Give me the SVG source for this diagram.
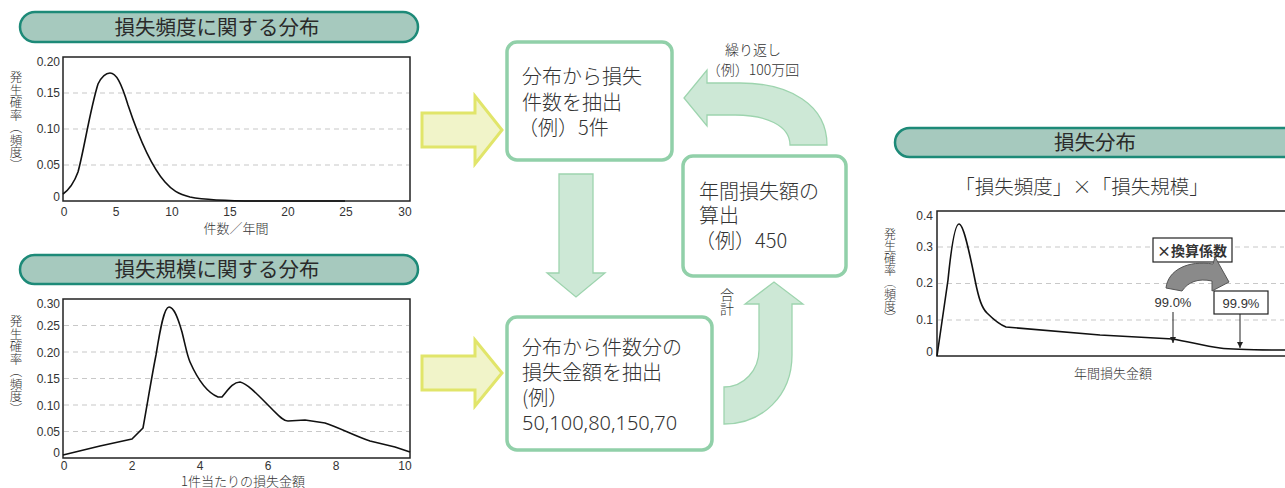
<svg xmlns="http://www.w3.org/2000/svg" width="1285" height="488" viewBox="0 0 1285 488">
<defs>
<style>
text{font-family:"Noto Sans CJK JP","Noto Sans",sans-serif;fill:#333;font-weight:300;}
.pill{fill:#a6c9be;stroke:#1d8a78;stroke-width:2.5;}
.ttl{font-size:20.5px;text-anchor:middle;font-weight:400;fill:#2a2a2a;}
.plot{fill:#fff;stroke:#222;stroke-width:1.5;}
.grid{stroke:#c8c8c8;stroke-width:1.2;stroke-dasharray:5 4;fill:none;}
.curve{fill:none;stroke:#111;stroke-width:1.6;stroke-linejoin:round;}
.tk{font-size:12px;font-family:"Liberation Sans","Noto Sans",sans-serif;fill:#333;font-weight:400;}
.tky{text-anchor:end;}
.tkx{text-anchor:middle;}
.vlab{font-size:12.5px;writing-mode:vertical-rl;}
.axl{font-size:13px;text-anchor:middle;}
.box{fill:#fff;stroke:#91d0a9;stroke-width:3.5;}
.btxt{font-size:20px;}
.yarr{fill:#f1f4c9;stroke:#e1e56a;stroke-width:3;stroke-linejoin:miter;}
.garr{fill:#cde8d6;stroke:#9dd4ae;stroke-width:1.3;}
.small{font-size:14px;}
.note{fill:#fff;stroke:#222;stroke-width:1.2;}
.pt{stroke:#222;stroke-width:1;fill:none;}
.pct{font-size:13px;text-anchor:middle;font-family:"Liberation Sans",sans-serif;font-weight:400;}
</style>
<marker id="ah" viewBox="0 0 10 10" refX="10" refY="5" markerWidth="7" markerHeight="6" orient="auto" markerUnits="userSpaceOnUse">
<path d="M0,0 L10,5 L0,10 Z" fill="#222"/>
</marker>
</defs>

<!-- Frequency section -->
<g id="freq-title">
<rect class="pill" x="20" y="12" width="398" height="30" rx="15"/>
<text class="ttl" x="217" y="35">損失頻度に関する分布</text>
</g>
<g id="freq-chart">
<rect class="plot" x="63" y="57" width="347" height="144"/>
<line class="grid" x1="64" y1="93" x2="409" y2="93"/>
<line class="grid" x1="64" y1="129" x2="409" y2="129"/>
<line class="grid" x1="64" y1="165" x2="409" y2="165"/>
<path class="curve" d="M63,194 C70,189 74,183 78,172 C84,150 90,110 98,84 C102,76 106,73 110,73 C116,73 121,82 128,105 C138,135 150,165 165,182 C172,190 178,194 190,197 C205,200 225,201 260,201 L345,201"/>
<text class="tk tky" x="60" y="66">0.20</text>
<text class="tk tky" x="60" y="97">0.15</text>
<text class="tk tky" x="60" y="133">0.10</text>
<text class="tk tky" x="60" y="169">0.05</text>
<text class="tk tky" x="60" y="201">0</text>
<text class="tk tkx" x="64" y="216">0</text>
<text class="tk tkx" x="116" y="216">5</text>
<text class="tk tkx" x="172" y="216">10</text>
<text class="tk tkx" x="230" y="216">15</text>
<text class="tk tkx" x="288" y="216">20</text>
<text class="tk tkx" x="346" y="216">25</text>
<text class="tk tkx" x="405" y="216">30</text>
<text class="axl" x="236" y="233">件数／年間</text>
<text class="vlab" x="16" y="71">発生確率（頻度）</text>
</g>

<!-- Severity section -->
<g id="sev-title">
<rect class="pill" x="20" y="255" width="398" height="29" rx="14.5"/>
<text class="ttl" x="217" y="277">損失規模に関する分布</text>
</g>
<g id="sev-chart">
<rect class="plot" x="63" y="299" width="347" height="159"/>
<line class="grid" x1="64" y1="325.5" x2="409" y2="325.5"/>
<line class="grid" x1="64" y1="352" x2="409" y2="352"/>
<line class="grid" x1="64" y1="378.5" x2="409" y2="378.5"/>
<line class="grid" x1="64" y1="405" x2="409" y2="405"/>
<line class="grid" x1="64" y1="431.5" x2="409" y2="431.5"/>
<path class="curve" d="M63,455 L100,446 L132,439 L143,428 C148,400 152,375 156,355 C160,330 164,307 169,307 C174,307 178,318 182,332 C186,348 187,355 190,362 C198,380 208,393 218,397 L222,397 C228,390 233,382 240,382 C248,384 258,395 270,407 C278,415 283,421 288,421 L305,420 L325,423 C340,428 355,436 370,441 L395,447 L410,452"/>
<text class="tk tky" x="60" y="308">0.30</text>
<text class="tk tky" x="60" y="330">0.25</text>
<text class="tk tky" x="60" y="357">0.20</text>
<text class="tk tky" x="60" y="383">0.15</text>
<text class="tk tky" x="60" y="410">0.10</text>
<text class="tk tky" x="60" y="436">0.05</text>
<text class="tk tky" x="60" y="457">0</text>
<text class="tk tkx" x="64" y="470">0</text>
<text class="tk tkx" x="132" y="470">2</text>
<text class="tk tkx" x="200" y="470">4</text>
<text class="tk tkx" x="268" y="470">6</text>
<text class="tk tkx" x="336" y="470">8</text>
<text class="tk tkx" x="405" y="470">10</text>
<text class="axl" x="243" y="486">1件当たりの損失金額</text>
<text class="vlab" x="16" y="315">発生確率（頻度）</text>
</g>

<!-- Connectors / arrows -->
<g id="connectors">
<path class="yarr" d="M422,113 L475,113 L475,96 L502,130 L475,164 L475,147 L422,147 Z"/>
<path class="yarr" d="M422,356 L475,356 L475,340 L502,373 L475,406 L475,390 L422,390 Z"/>
<path class="garr" d="M559,174 L593,174 L593,273 L605,273 L576,297 L547,273 L559,273 Z"/>
<path class="garr" d="M724,387 C744,387 759,370 759,350 L759,304 L745,304 L774,282 L803,304 L792,304 L792,355 C792,396 762,424 724,424 Z"/>
<path class="garr" d="M827,145 C827,105 790,83 740,83 L707,83 L707,70 L684,98 L707,126 L707,115 L735,115 C765,115 790,125 790,145 Z"/>
<text class="small" x="753" y="55" text-anchor="middle">繰り返し</text>
<text class="small" x="753" y="75" text-anchor="middle">（例）100万回</text>
<text class="small" x="727" y="288" style="writing-mode:vertical-rl">合計</text>
</g>

<g id="box-count">
<rect class="box" x="507" y="42" width="165" height="118" rx="10"/>
<text class="btxt" x="522" y="84">分布から損失</text>
<text class="btxt" x="522" y="110">件数を抽出</text>
<text class="btxt" x="518" y="135">（例）5件</text>
</g>

<g id="box-severity">
<rect class="box" x="507" y="317" width="205" height="133" rx="10"/>
<text class="btxt" x="522" y="355">分布から件数分の</text>
<text class="btxt" x="522" y="380">損失金額を抽出</text>
<text class="btxt" x="522" y="405">(例）</text>
<text class="btxt" x="522" y="430" style="font-family:'Noto Sans','Liberation Sans',sans-serif">50,100,80,150,70</text>
</g>

<g id="box-annual">
<rect class="box" x="683" y="156" width="163" height="120" rx="10"/>
<text class="btxt" x="699" y="199">年間損失額の</text>
<text class="btxt" x="699" y="223">算出</text>
<text class="btxt" x="695" y="248">（例）450</text>
</g>

<!-- Loss distribution -->
<g id="loss-title">
<rect class="pill" x="895" y="128" width="410" height="29" rx="14.5"/>
<text class="ttl" x="1095" y="150">損失分布</text>
<text x="1082" y="194" style="font-size:19.5px;text-anchor:middle">「損失頻度」×「損失規模」</text>
</g>
<g id="loss-chart">
<rect class="plot" x="937" y="211" width="360" height="145"/>
<line class="grid" x1="938" y1="247" x2="1284" y2="247"/>
<line class="grid" x1="938" y1="283.5" x2="1284" y2="283.5"/>
<line class="grid" x1="938" y1="320" x2="1284" y2="320"/>
<path class="curve" d="M937,356 L948,280 C951,250 955,224 959,224 C963,224 968,245 975,280 C979,300 982,308 987,313 C993,319 998,324 1006,327 L1100,335 L1173,339 C1190,342 1205,346 1220,348 C1235,350 1260,350 1285,350"/>
<text class="tk tky" x="933" y="220">0.4</text>
<text class="tk tky" x="933" y="251">0.3</text>
<text class="tk tky" x="933" y="287">0.2</text>
<text class="tk tky" x="933" y="324">0.1</text>
<text class="tk tky" x="933" y="356">0</text>
<text class="axl" x="1113" y="378">年間損失金額</text>
<text class="vlab" x="890" y="228" style="font-size:12px">発生確率（頻度）</text>
</g>
<g id="factor">
<rect class="note" x="1153" y="238" width="79" height="24"/>
<text x="1192" y="256" style="font-size:14px;text-anchor:middle;font-weight:700">×換算係数</text>
<path d="M1166,288 C1168,270 1188,260 1213,264 L1215,257 L1229,282 L1212,291 L1212,281 C1198,278 1188,282 1182,291 Z" fill="#8a8a8a" stroke="#555" stroke-width="1"/>
</g>
<g id="p990">
<text class="pct" x="1173" y="307">99.0%</text>
<line class="pt" x1="1173" y1="312" x2="1173" y2="343" marker-end="url(#ah)"/>
</g>
<g id="p999">
<rect class="note" x="1214" y="291" width="54" height="23"/>
<text class="pct" x="1241" y="308">99.9%</text>
<line class="pt" x1="1240" y1="314" x2="1240" y2="348" marker-end="url(#ah)"/>
</g>
</svg>
